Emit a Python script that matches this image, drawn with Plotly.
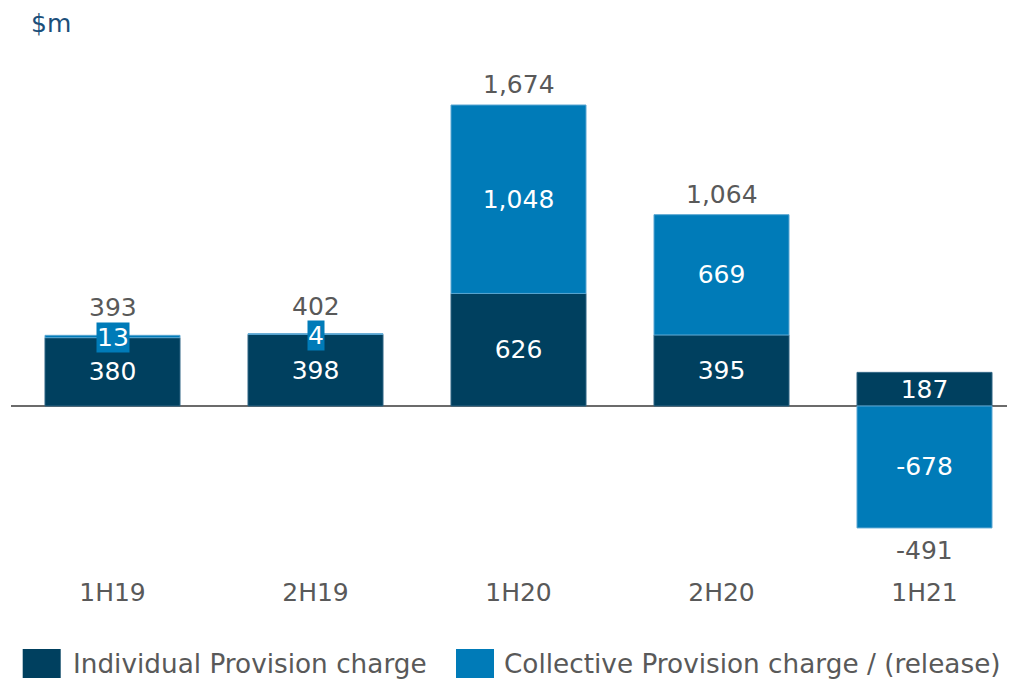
import plotly.graph_objects as go

categories = ["1H19", "2H19", "1H20", "2H20", "1H21"]
individual = [380, 398, 626, 395, 187]
collective = [13, 4, 1048, 669, -678]
totals = [393, 402, 1674, 1064, -491]

series_names = ["Individual Provision charge", "Collective Provision charge / (release)"]
unit_label = "$m"

DARK = "#00405f"
BLUE = "#007bb8"
GRAY = "#595959"
FONT = "DejaVu Sans"

OFF = 8  # page body margin
W, H = 1015 - OFF, 682 - OFF
ML, MR, MT, MB = 3, 0, 0, 107
PW, PH = W - ML - MR, H - MT - MB


def px_x(x):
    return (x - OFF - ML) / PW


def px_y(y):
    return (MT + PH - (y - OFF)) / PH


def fmt(v):
    return f"{v:,}"


def inside_text(vals):
    return [fmt(v) if abs(v) >= 50 else "" for v in vals]


fig = go.Figure()
fig.add_trace(go.Bar(
    x=categories, y=individual, name=series_names[0],
    marker=dict(color=DARK, line=dict(color="#2f6584", width=1)),
    text=inside_text(individual), textposition="inside", insidetextanchor="middle",
    textfont=dict(color="white", size=25, family=FONT), constraintext="none",
    showlegend=False, hoverinfo="x+y",
))
fig.add_trace(go.Bar(
    x=categories, y=collective, name=series_names[1],
    marker=dict(color=BLUE, line=dict(color="#5aa6d2", width=1)),
    text=inside_text(collective), textposition="inside", insidetextanchor="middle",
    textfont=dict(color="white", size=25, family=FONT), constraintext="none",
    showlegend=False, hoverinfo="x+y",
))

annotations = []
for c, ind, col, tot in zip(categories, individual, collective, totals):
    pos_top = max(ind, 0) + max(col, 0)
    neg_bot = min(ind, 0) + min(col, 0)
    if tot >= 0:
        small = abs(col) < 50
        annotations.append(dict(
            x=c, y=pos_top, xref="x", yref="y", text=fmt(tot), showarrow=False,
            yanchor="bottom", yshift=11 if small else 4,
            font=dict(color=GRAY, size=25, family=FONT),
        ))
    else:
        annotations.append(dict(
            x=c, y=neg_bot, xref="x", yref="y", text=fmt(tot), showarrow=False,
            yanchor="top", yshift=-6,
            font=dict(color=GRAY, size=25, family=FONT),
        ))
    if abs(col) < 50:
        annotations.append(dict(
            x=c, y=pos_top, xref="x", yref="y", text=fmt(col), showarrow=False,
            yanchor="middle", yshift=-2, bgcolor=BLUE, borderpad=0,
            font=dict(color="white", size=25, family=FONT),
        ))

annotations.append(dict(
    x=px_x(30), y=px_y(23), xref="paper", yref="paper", text=unit_label,
    showarrow=False, xanchor="left", yanchor="middle", borderpad=0,
    font=dict(color="#1b4f7a", size=25, family=FONT),
))

# custom legend
shapes = []
legend_items = [(series_names[0], DARK, 22.7, 72), (series_names[1], BLUE, 456, 503)]
for name, color, sx, tx in legend_items:
    shapes.append(dict(
        type="rect", xref="paper", yref="paper",
        x0=px_x(sx), x1=px_x(sx + 38), y0=px_y(678), y1=px_y(649),
        fillcolor=color, line=dict(width=0),
    ))
    annotations.append(dict(
        x=px_x(tx), y=px_y(664), xref="paper", yref="paper", text=name,
        showarrow=False, xanchor="left", yanchor="middle", borderpad=0,
        font=dict(color=GRAY, size=26.3, family=FONT),
    ))

scale = 301 / 1674
zero_px = 406 - OFF
y_top = zero_px / scale
y_bot = -(PH - zero_px) / scale

fig.update_layout(
    width=W, height=H,
    margin=dict(l=ML, r=MR, t=MT, b=MB, pad=0),
    barmode="relative", bargap=0.335,
    plot_bgcolor="white", paper_bgcolor="white",
    font=dict(family=FONT, color=GRAY),
    annotations=annotations, shapes=shapes,
    xaxis=dict(range=[-0.5, -0.5 + PW / 203], showgrid=False, showline=False,
               ticks="", tickfont=dict(size=25, color=GRAY, family=FONT),
               fixedrange=True),
    yaxis=dict(range=[y_bot, y_top], showgrid=False, zeroline=True,
               zerolinecolor="#6b6b6b", zerolinewidth=2, showticklabels=False,
               ticks="", fixedrange=True),
    showlegend=False,
)

fig.write_html("out.html")
